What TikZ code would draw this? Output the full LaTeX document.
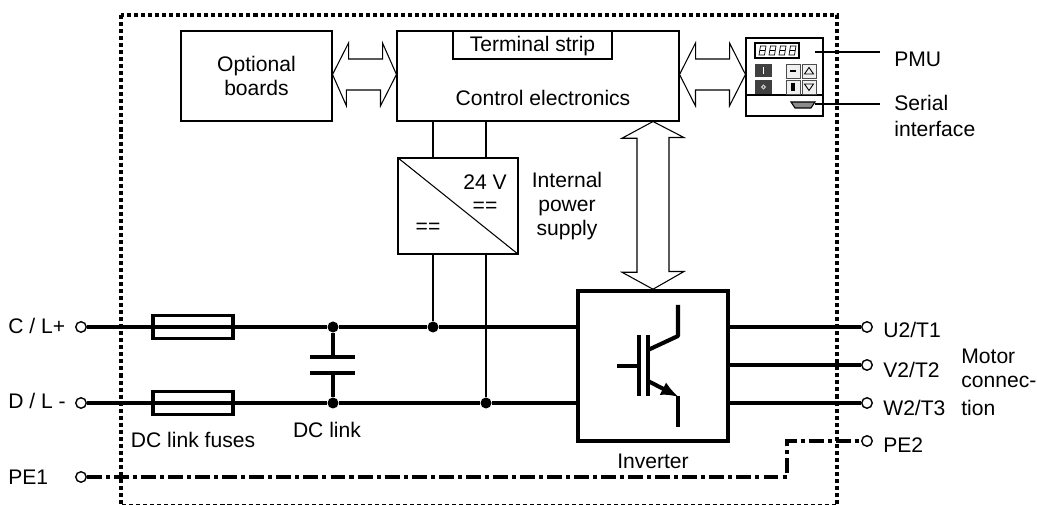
\documentclass[tikz,border=0pt]{standalone}
\usepackage{fontspec}
\setmainfont{Liberation Sans}
\usetikzlibrary{arrows.meta}
\tikzset{
	every node/.style={font=\fontsize{12}{13.7}\selectfont,inner sep=0pt},
	thinline/.style={line width=0.6pt},
	busline/.style={line width=2.3pt},
	peline/.style={line width=2.3pt,dash pattern=on 8.5pt off 2.3pt on 2.3pt off 2.3pt},
	framebox/.style={line width=2.3pt,dash pattern=on 2.3pt off 1.7pt},
	blockbox/.style={draw,thinline,align=center,anchor=center},
	heavybox/.style={draw,line width=2pt,anchor=center},
	terminal/.style={draw,circle,line width=0.8pt,fill=white,minimum size=2.1mm},
	junction/.style={circle,fill=black,minimum size=2.2mm},
	plate/.style={line width=2.2pt},
	darkkey/.style={fill=black!75},
	lightkey/.style={fill=black!6,draw=black!70,line width=0.5pt},
	label/.style={anchor=west}
}
\begin{document}
\begin{tikzpicture}[x=0.2mm,y=-0.2mm]
	\useasboundingbox (0,0) rectangle (1037,505);

	% housing
	\draw[framebox] (121,15) rectangle (837,506);

	% blocks
	\node[blockbox,minimum width=30.2mm,minimum height=18mm] (optional) at (256.5,76) {Optional\\boards};
	\node[blockbox,minimum width=56.4mm,minimum height=18mm] (control) at (538,76) {};
	\node[blockbox,minimum width=31.8mm,minimum height=5.6mm] (strip) at (532.5,45) {};
	\node (striptext) at (532.5,46.5) {Terminal strip};
	\node (electronics) at (543,98) {Control electronics};
	\node[blockbox,minimum width=24mm,minimum height=19.2mm] (supply) at (458,206) {};
	\node[heavybox,minimum width=30mm,minimum height=30mm] (inverter) at (653,366) {};
	\node[heavybox,minimum width=16mm,minimum height=4.6mm] (fuseC) at (193,327) {};
	\node[heavybox,minimum width=16mm,minimum height=4.6mm] (fuseD) at (193,403) {};
	\node[blockbox,minimum width=15.4mm,minimum height=15.6mm] (pmu) at (784.5,77) {};

	% data arrows
	\draw[thinline] (optional.east |- 0,74.5) -- ++(16,-31.5) -- ++(0,16) -- ++(34,0) -- ++(0,-16)
		-- (control.west |- 0,74.5) -- ++(-16,31.5) -- ++(0,-16) -- ++(-34,0) -- ++(0,16) -- cycle;
	\draw[thinline] (control.east |- 0,74.5) -- ++(16,-31.5) -- ++(0,16) -- ++(34,0) -- ++(0,-16)
		-- (pmu.west |- 0,74.5) -- ++(-16,31.5) -- ++(0,-16) -- ++(-34,0) -- ++(0,16) -- cycle;
	\draw[thinline] (653,0 |- control.south) -- ++(31,16) -- ++(-15,0) -- ++(0,134) -- ++(15,0)
		-- (653,0 |- inverter.north) -- ++(-31,-17) -- ++(15,0) -- ++(0,-134) -- ++(-15,0) -- cycle;

	% power supply
	\draw[thinline] (supply.north west) -- (supply.south east);
	\node (volt) at (485,182) {24 V};
	\node (dcout) at (485,207) {==};
	\node (dcin) at (428,228) {==};
	\node[align=center] (supplytext) at (567,206) {Internal\\power\\supply};

	% terminals
	\node[terminal] (tC) at (81,327) {};
	\node[terminal] (tD) at (81,403) {};
	\node[terminal] (tPE1) at (81,477) {};
	\node[terminal] (tU) at (867,327) {};
	\node[terminal] (tV) at (867,365) {};
	\node[terminal] (tW) at (867,403) {};
	\node[terminal] (tPE2) at (867,441) {};

	% junctions
	\node[junction] (capC) at (333,327) {};
	\node[junction] (capD) at (333,403) {};
	\node[junction] (feedC) at (433,327) {};
	\node[junction] (feedD) at (486,403) {};
	\coordinate (plateC) at (333,357);
	\coordinate (plateD) at (333,373);
	\coordinate (pecornerA) at (787,477);
	\coordinate (pecornerB) at (787,441);

	% main lines
	\draw[busline] (tC) -- (capC) -- (feedC) -- (inverter.west |- feedC);
	\draw[busline] (tD) -- (capD) -- (feedD) -- (inverter.west |- feedD);
	\draw[busline] (inverter.east |- tU) -- (tU);
	\draw[busline] (inverter.east |- tV) -- (tV);
	\draw[busline] (inverter.east |- tW) -- (tW);
	\draw[peline] (tPE1) -- (pecornerA) -- (pecornerB) -- (tPE2);

	% capacitor
	\draw[line width=2pt] (capC) -- (plateC);
	\draw[line width=2pt] (capD) -- (plateD);
	\draw[plate] (310,357) -- (355,357);
	\draw[plate] (310,373) -- (355,373);

	% supply feeds
	\draw[thinline] (feedC |- control.south) -- (feedC |- supply.north);
	\draw[thinline] (feedD |- control.south) -- (feedD |- supply.north);
	\draw[thinline] (feedC |- supply.south) -- (feedC);
	\draw[thinline] (feedD |- supply.south) -- (feedD);

	% IGBT
	\draw[busline] (617,366) -- (639,366);
	\draw[busline] (639,335) -- (639,396);
	\draw[busline] (648,335) -- (648,396);
	\draw[busline,line join=round] (648,350) -- (678,336) -- (678,305);
	\draw[busline] (678,396) -- (678,427);
	\draw[busline,-{Latex[length=3.6mm,width=2.8mm]}] (648,381) -- (679,397);

	% operator panel
	\draw[thinline] (pmu.west |- 0,95) -- (pmu.east |- 0,95);
	\draw[thinline] (755,43) rectangle (799,58);
	\foreach \dx in {759,769,779,789}
		\draw[line width=0.4pt] (\dx,55) -- (\dx+1.5,46) -- (\dx+7,46) -- (\dx+5.5,55) -- cycle
			(\dx+0.75,50.5) -- (\dx+6.25,50.5);
	\fill[darkkey] (755,64) rectangle (772,77);
	\fill[darkkey] (755,80) rectangle (772,94);
	\draw[white,line width=0.5pt] (763.5,67) -- (763.5,74);
	\draw[white!80!black,line width=0.6pt] (763.5,87) circle (1.8);
	\filldraw[lightkey] (786,64) rectangle (800,78);
	\filldraw[lightkey] (802,64) rectangle (816,78);
	\filldraw[lightkey] (786,80) rectangle (800,94);
	\filldraw[lightkey] (802,80) rectangle (816,94);
	\draw[line width=0.8pt] (790,71) -- (796,71);
	\draw[line width=0.5pt] (804.5,74) -- (809,67.5) -- (813.5,74) -- cycle;
	\draw[line width=0.5pt] (804.5,84) -- (809,90.5) -- (813.5,84) -- cycle;
	\fill (791,83) rectangle (795,91);
	\filldraw[fill=black!45,line width=0.6pt] (791,102) -- (815,102) -- (811,108) -- (795,108) -- cycle;

	% lead lines
	\coordinate (pmuend) at (880,52);
	\coordinate (serialend) at (880,104);
	\draw[thinline] (815,52) -- (pmuend);
	\draw[thinline] (815,104) -- (serialend);

	% labels
	\node[label] (lC) at (8,325.5) {C / L+};
	\node[label] (lD) at (8,401) {D / L -};
	\node[label] (lPE1) at (8,477) {PE1};
	\node (lfuses) at (193,440) {DC link fuses};
	\node (ldclink) at (327,430) {DC link};
	\node (linverter) at (653,461) {Inverter};
	\node[label] (lU) at (883,330) {U2/T1};
	\node[label] (lV) at (883,370) {V2/T2};
	\node[label] (lW) at (883,408) {W2/T3};
	\node[label] (lPE2) at (883,445) {PE2};
	\node[label] (lmotor1) at (961,356) {Motor};
	\node[label] (lmotor2) at (961,382) {connec-};
	\node[label] (lmotor3) at (961,408) {tion};
	\node[label] (lpmu) at (894,59) {PMU};
	\node[label] (lserial1) at (894,103) {Serial};
	\node[label] (lserial2) at (894,129) {interface};

\end{tikzpicture}
\end{document}
